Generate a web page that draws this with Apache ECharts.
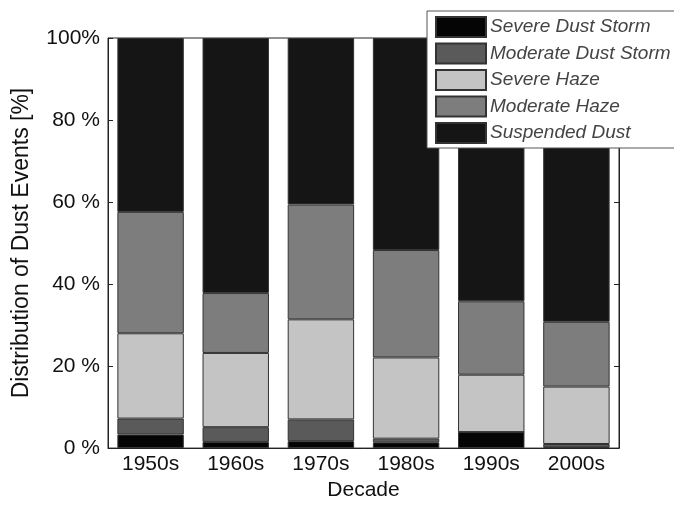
<!DOCTYPE html>
<html>
<head>
<meta charset="utf-8">
<script src="https://cdn.jsdelivr.net/npm/echarts@6/dist/echarts.min.js"></script>
<style>
html, body { margin: 0; padding: 0; background: #fff; }
#main { width: 674px; height: 506px; }
</style>
</head>
<body>
<div id="main"></div>
<script>
// decades on the x axis
var decades = ['1950s', '1960s', '1970s', '1980s', '1990s', '2000s'];

// share of each event type per decade [%], bottom to top
var severeDustStorm = [3.3, 1.5, 1.7, 1.4, 3.9, 0.2];
var moderateDustStorm = [3.9, 3.6, 5.3, 0.9, 0.0, 0.8];
var severeHaze = [20.8, 18.1, 24.4, 19.8, 14.0, 14.0];
var moderateHaze = [29.6, 14.6, 28.0, 26.2, 17.9, 15.8];
var suspendedDust = [42.4, 62.2, 40.6, 51.7, 64.2, 69.2];

// y tick labels
var yTicks = {0: '0 %', 20: '20 %', 40: '40 %', 60: '60 %', 80: '80 %', 100: '100%'};

var fontName = '"Liberation Sans", Arial, sans-serif';

function mkSeries(name, data, color) {
	return {
		name: name,
		type: 'bar',
		stack: 'all',
		barCategoryGap: '22%',
		data: data,
		itemStyle: {
			color: color,
			borderColor: '#333',
			borderWidth: 1
		}
	};
}

var chart = echarts.init(document.getElementById('main'));

var option = {
	animation: false,
	backgroundColor: '#fff',
	textStyle: { fontFamily: fontName },
	grid: {
		left: 108, top: 38, width: 511, height: 415,
		show: true, borderColor: '#222', borderWidth: 1
	},
	legend: {
		orient: 'vertical',
		left: 427, top: 11,
		icon: 'rect',
		itemWidth: 50, itemHeight: 20, itemGap: 4.5,
		padding: [5, 20, 4, 8],
		backgroundColor: '#fff',
		borderColor: '#555', borderWidth: 1,
		textStyle: { fontFamily: fontName, fontStyle: 'italic', fontSize: 19, color: '#444', padding: [0, 0, 0, -1] },
		data: ['Severe Dust Storm', 'Moderate Dust Storm', 'Severe Haze', 'Moderate Haze', 'Suspended Dust']
	},
	xAxis: {
		type: 'category',
		data: decades,
		name: 'Decade',
		nameLocation: 'middle',
		nameGap: 30,
		nameTextStyle: { fontSize: 21, color: '#111' },
		axisLine: { lineStyle: { color: '#222' } },
		axisTick: { show: false },
		axisLabel: { fontSize: 21, color: '#111', margin: 6 }
	},
	yAxis: [{
		type: 'value',
		min: 0, max: 100, interval: 20,
		name: 'Distribution of Dust Events [%]',
		nameLocation: 'middle',
		nameGap: 75,
		nameTextStyle: { fontSize: 23, color: '#111' },
		splitLine: { show: false },
		axisLine: { show: true, lineStyle: { color: '#222' } },
		axisTick: { show: true, inside: true, length: 5, lineStyle: { color: '#222' } },
		axisLabel: {
			fontSize: 21, color: '#111', margin: 8,
			formatter: function (v) { return yTicks[v]; }
		}
	}, {
		type: 'value',
		position: 'right',
		min: 0, max: 100, interval: 20,
		splitLine: { show: false },
		axisLine: { show: true, lineStyle: { color: '#222' } },
		axisTick: { show: true, inside: true, length: 5, lineStyle: { color: '#222' } },
		axisLabel: { show: false }
	}],
	series: [
		mkSeries('Severe Dust Storm', severeDustStorm, '#050505'),
		mkSeries('Moderate Dust Storm', moderateDustStorm, '#5a5a5a'),
		mkSeries('Severe Haze', severeHaze, '#c4c4c4'),
		mkSeries('Moderate Haze', moderateHaze, '#7d7d7d'),
		mkSeries('Suspended Dust', suspendedDust, '#151515')
	]
};

chart.setOption(option);
</script>
</body>
</html>
